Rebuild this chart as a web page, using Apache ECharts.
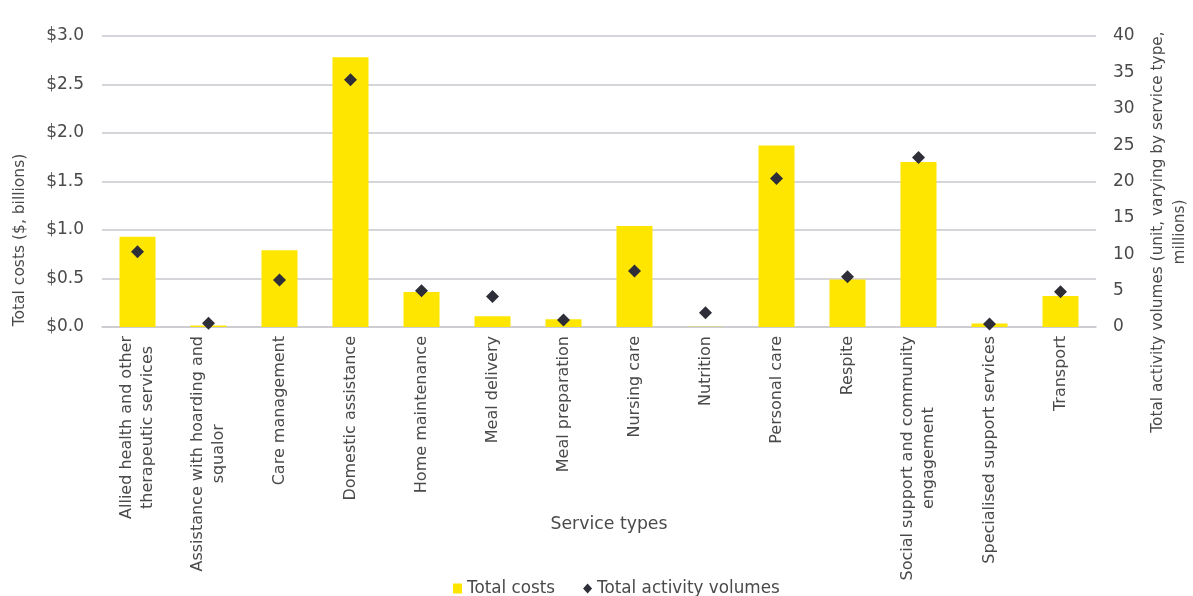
<!DOCTYPE html>
<html>
<head>
<meta charset="utf-8">
<script src="https://cdn.jsdelivr.net/npm/echarts@6/dist/echarts.min.js"></script>
<style>
  html, body { margin: 0; padding: 0; background: #ffffff; }
  #chart { width: 1193px; height: 596px; }
</style>
</head>
<body>
<div id="chart"></div>
<script>
// Service types (line breaks as shown under the axis)
const categories = [
  'Allied health and other\ntherapeutic services',
  'Assistance with hoarding and\nsqualor',
  'Care management',
  'Domestic assistance',
  'Home maintenance',
  'Meal delivery',
  'Meal preparation',
  'Nursing care',
  'Nutrition',
  'Personal care',
  'Respite',
  'Social support and community\nengagement',
  'Specialised support services',
  'Transport'
];

// Total costs, $ billions
const totalCosts = [0.93, 0.015, 0.79, 2.78, 0.36, 0.11, 0.08, 1.04, 0.003, 1.87, 0.49, 1.70, 0.035, 0.32];

// Total activity volumes, millions (unit varies by service type)
const activityVolumes = [10.35, 0.5, 6.45, 34.0, 5.0, 4.2, 0.95, 7.7, 1.95, 20.4, 6.9, 23.3, 0.4, 4.85];

const costTicks = { min: 0, max: 3, interval: 0.5 };
const volumeTicks = { min: 0, max: 40, interval: 5 };

const FONT = '"DejaVu Sans", "Open Sans", sans-serif';
const TEXT = '#4a4a4a';
const GRID_LINE = '#c9c9ce';

const chart = echarts.init(document.getElementById('chart'), null, { renderer: 'canvas' });

chart.setOption({
  backgroundColor: '#ffffff',
  animation: false,
  textStyle: { fontFamily: FONT, color: TEXT },
  grid: { left: 102, right: 97, top: 36, bottom: 269, containLabel: false },
  legend: {
    top: 575,
    left: 448,
    itemGap: 28,
    itemWidth: 9,
    itemHeight: 10,
    textStyle: { fontFamily: FONT, fontSize: 16.8, color: TEXT },
    data: [
      { name: 'Total costs', icon: 'rect' },
      { name: 'Total activity volumes', icon: 'diamond', itemStyle: { color: '#2e2e38', opacity: 1 } }
    ]
  },
  xAxis: {
    type: 'category',
    data: categories,
    boundaryGap: true,
    axisLine: { show: true, lineStyle: { color: GRID_LINE, width: 1.5 } },
    axisTick: { show: false },
    axisLabel: {
      interval: 0,
      rotate: 90,
      margin: 9,
      fontFamily: FONT,
      fontSize: 16,
      color: TEXT,
      lineHeight: 21,
      formatter: (v) => v.split('\n').map(s => '{c|' + s + '}').join('\n'),
      rich: { c: { align: 'center', fontFamily: FONT, fontSize: 16, color: TEXT, lineHeight: 21 } }
    }
  },
  yAxis: [
    {
      type: 'value',
      min: costTicks.min,
      max: costTicks.max,
      interval: costTicks.interval,
      axisLine: { show: false },
      axisTick: { show: false },
      splitLine: { show: true, lineStyle: { color: GRID_LINE, width: 1.5 } },
      axisLabel: {
        margin: 18,
        fontFamily: FONT,
        fontSize: 17,
        color: TEXT,
        formatter: (v) => '$' + v.toFixed(1)
      }
    },
    {
      type: 'value',
      min: volumeTicks.min,
      max: volumeTicks.max,
      interval: volumeTicks.interval,
      position: 'right',
      axisLine: { show: false },
      axisTick: { show: false },
      splitLine: { show: false },
      axisLabel: {
        margin: 17,
        fontFamily: FONT,
        fontSize: 17,
        color: TEXT
      }
    }
  ],
  series: [
    {
      name: 'Total costs',
      type: 'bar',
      yAxisIndex: 0,
      data: totalCosts,
      barWidth: 36,
      itemStyle: { color: '#ffe600' },
      z: 2
    },
    {
      name: 'Total activity volumes',
      type: 'scatter',
      yAxisIndex: 1,
      data: activityVolumes,
      symbol: 'diamond',
      symbolSize: 13,
      itemStyle: { color: '#2e2e38', opacity: 1 },
      z: 3
    }
  ],
  graphic: [
    {
      type: 'text',
      x: 20, y: 240,
      rotation: Math.PI / 2,
      style: {
        text: 'Total costs ($, billions)',
        font: '15.5px ' + FONT,
        fill: TEXT,
        align: 'center',
        verticalAlign: 'middle'
      }
    },
    {
      type: 'text',
      x: 1169, y: 232,
      rotation: Math.PI / 2,
      style: {
        text: 'Total activity volumes (unit, varying by service type,\nmillions)',
        font: '15.3px ' + FONT,
        fill: TEXT,
        align: 'center',
        verticalAlign: 'middle',
        lineHeight: 22
      }
    },
    {
      type: 'text',
      x: 609, y: 525,
      style: {
        text: 'Service types',
        font: '17.3px ' + FONT,
        fill: TEXT,
        align: 'center',
        verticalAlign: 'middle'
      }
    }
  ]
});
</script>
</body>
</html>
